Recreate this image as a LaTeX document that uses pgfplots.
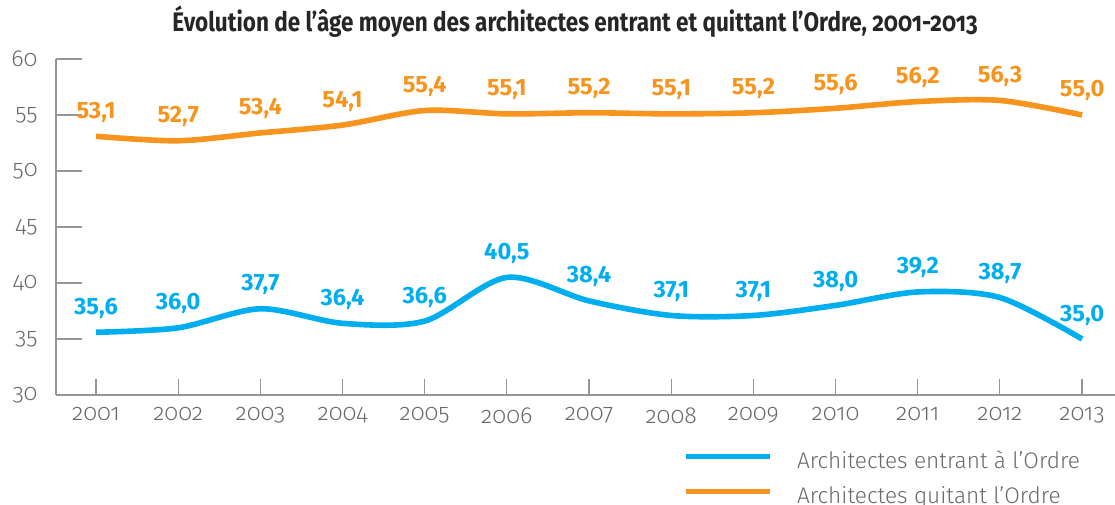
\documentclass[border=0pt]{standalone}
\usepackage{fontspec}
\usepackage{pgfplots}
\pgfplotsset{compat=1.18}
\setmainfont{Fira Sans}
\newfontfamily\tickfont{Fira Sans Light}[Numbers=OldStyle]
\newfontfamily\legfont{Fira Sans Light}
\newfontfamily\titlefont{Fira Sans}[FakeStretch=0.84, Numbers=OldStyle]
\newfontfamily\valfont{Fira Sans}[Numbers=Lining]
\definecolor{cblue}{RGB}{0,174,239}
\definecolor{corange}{RGB}{247,148,29}
\definecolor{tgray}{RGB}{105,105,105}
\definecolor{agray}{RGB}{150,150,150}
\begin{document}
\begin{tikzpicture}
\path[use as bounding box] (-28pt,-54.5pt) rectangle (529.5pt,197.5pt);
\node[font=\titlefont\bfseries\fontsize{13.4}{15}\selectfont, text=black!85] at (259.5pt,186.5pt) {Évolution de l’âge moyen des architectes entrant et quittant l’Ordre, 2001-2013};
\begin{axis}[
  at={(0,0)}, anchor=south west,
  scale only axis, width=529.5pt, height=168pt,
  xmin=2000.513, xmax=2013.40, ymin=30, ymax=60,
  axis x line=bottom, axis y line=left,
  axis line style={-, draw=agray, line width=0.6pt},
  tick align=inside,
  major tick length=13pt,
  xtick style={/pgfplots/major tick length=8pt, draw=agray, line width=0.6pt},
  ytick style={draw=agray, line width=0.6pt},
  xtick={2001,...,2013},
  xticklabels={2001,2002,2003,2004,2005,2006,2007,2008,2009,2010,2011,2012,2013},
  ytick={30,35,...,60},
  yticklabels={30,35,40,45,50,55,60},
  ticklabel style={font=\tickfont\fontsize{11.6}{13}\selectfont, text=tgray},
  yticklabel style={inner sep=0pt, xshift=-9pt},
  xticklabel style={inner sep=0pt, yshift=-6pt},
  clip=false,
  nodes near coords,
  point meta=explicit symbolic,
  every node near coord/.append style={font=\valfont\bfseries\fontsize{11.8}{13}\selectfont, anchor=base, inner sep=0pt, yshift=9pt},
  legend cell align=left,
  legend image code/.code={\draw[#1, line width=2.6pt] (0pt,3pt) -- (42pt,3pt);},
  legend style={at={(0.592,-0.170)}, anchor=north west, draw=none, fill=none, inner sep=0pt, outer sep=0pt, row sep=7.5pt, column sep=12.5pt, font=\legfont\fontsize{11.3}{13}\selectfont, text=tgray, nodes={inner sep=0pt, text height=8pt, text depth=2pt}},
]
\addplot[cblue, line width=2.8pt, smooth, mark=none, nodes near coords style={text=cblue}] coordinates {
(2001,35.6) [35,6]
(2002,36.0) [36,0]
(2003,37.7) [37,7]
(2004,36.4) [36,4]
(2005,36.6) [36,6]
(2006,40.5) [40,5]
(2007,38.4) [38,4]
(2008,37.1) [37,1]
(2009,37.1) [37,1]
(2010,38.0) [38,0]
(2011,39.2) [39,2]
(2012,38.7) [38,7]
(2013,35.0) [35,0]
};
\addlegendentry{Architectes entrant à l’Ordre}
\addplot[corange, line width=2.8pt, smooth, mark=none, nodes near coords style={text=corange}] coordinates {
(2001,53.1) [53,1]
(2002,52.7) [52,7]
(2003,53.4) [53,4]
(2004,54.1) [54,1]
(2005,55.4) [55,4]
(2006,55.1) [55,1]
(2007,55.2) [55,2]
(2008,55.1) [55,1]
(2009,55.2) [55,2]
(2010,55.6) [55,6]
(2011,56.2) [56,2]
(2012,56.3) [56,3]
(2013,55.0) [55,0]
};
\addlegendentry{Architectes quitant l’Ordre}
\end{axis}
\end{tikzpicture}
\end{document}
